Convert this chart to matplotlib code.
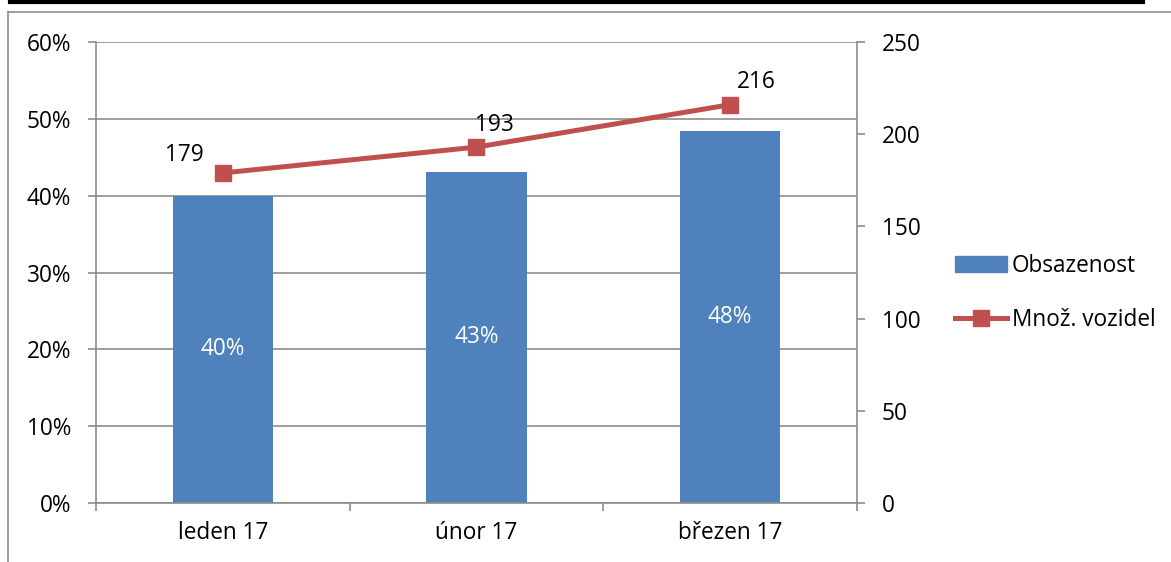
import matplotlib
matplotlib.use("Agg")
import matplotlib.pyplot as plt
from matplotlib.lines import Line2D
from matplotlib.patches import Patch
import numpy as np

categories = ["leden 17", "únor 17", "březen 17"]
obsazenost = [0.40, 0.431, 0.484]
obsazenost_labels = ["40%", "43%", "48%"]
vozidla = [179, 193, 216]
left_ticks = [0, 0.1, 0.2, 0.3, 0.4, 0.5, 0.6]
left_ticklabels = ["0%", "10%", "20%", "30%", "40%", "50%", "60%"]
right_ticks = [0, 50, 100, 150, 200, 250]

plt.rcParams['font.family'] = ['Open Sans', 'DejaVu Sans']
FS = 16.3
W, H = 1171, 562
fig = plt.figure(figsize=(W / 100, H / 100), dpi=100)
ax = fig.add_axes([96 / W, 1 - 503 / H, (857 - 96) / W, (503 - 42) / H])
ax2 = ax.twinx()

bar_color = "#4F81BD"
line_color = "#C0504D"
grid_color = "#8C8C8C"

x = np.arange(len(categories))
ax.bar(x, obsazenost, width=0.395, color=bar_color, zorder=2, label="Obsazenost")
for xi, v, lab in zip(x, obsazenost, obsazenost_labels):
    ax.text(xi, v / 2, lab, ha="center", va="center", color="white", fontsize=FS, zorder=3)

ax.set_xlim(-0.5, len(categories) - 0.5)
ax.set_ylim(0, 0.6)
ax.set_yticks(left_ticks)
ax.set_yticklabels(left_ticklabels)
ax.set_xticks(x)
ax.set_xticklabels(categories)
ax.set_xticks(np.arange(-0.5, len(categories)), minor=True)
ax.tick_params(axis="x", which="major", length=0, pad=13, labelsize=FS)
ax.tick_params(axis="x", which="minor", length=6, color=grid_color, width=1.2)
ax.tick_params(axis="y", length=6, color=grid_color, width=1.2, pad=12, labelsize=FS)
ax.yaxis.grid(True, color=grid_color, linewidth=1.2, zorder=0)
ax.set_axisbelow(True)
for s in ["top", "right"]:
    ax.spines[s].set_visible(False)
for s in ["left", "bottom"]:
    ax.spines[s].set_color(grid_color)
    ax.spines[s].set_linewidth(1.2)

ax2.plot(x, vozidla, color=line_color, linewidth=3.6, marker="s", markersize=12,
         label="Množ. vozidel", zorder=4)
ax2.set_ylim(0, 250)
ax2.set_yticks(right_ticks)
ax2.tick_params(axis="y", length=6, color=grid_color, width=1.2, pad=12, labelsize=FS)
for s in ["top", "left", "bottom"]:
    ax2.spines[s].set_visible(False)
ax2.spines["right"].set_color(grid_color)
ax2.spines["right"].set_linewidth(1.2)

label_offsets = [(-28, 13), (13, 16), (19, 16)]
for xi, v, off in zip(x, vozidla, label_offsets):
    ax2.annotate(str(v), (xi, v), xytext=off, textcoords="offset points",
                 ha="center", va="center", fontsize=FS)

handles = [Patch(color=bar_color), Line2D([0], [0], color=line_color, linewidth=3.6,
                                          marker="s", markersize=12)]
fig.legend(handles, ["Obsazenost", "Množ. vozidel"], loc="center left",
           bbox_to_anchor=(935 / W, 1 - 293 / H), frameon=False, fontsize=FS,
           handlelength=2.3, labelspacing=1.35, handletextpad=0.2)

# frame lines
fig.add_artist(Line2D([10 / W, 1143 / W], [1 - 2 / H, 1 - 2 / H], color="black", linewidth=3,
                      transform=fig.transFigure))
fig.add_artist(Line2D([8 / W, 1], [1 - 12 / H, 1 - 12 / H], color=grid_color, linewidth=1.2,
                      transform=fig.transFigure))
fig.add_artist(Line2D([8 / W, 8 / W], [0, 1 - 12 / H], color=grid_color, linewidth=1.2,
                      transform=fig.transFigure))

fig.savefig("out.png", dpi=100)
